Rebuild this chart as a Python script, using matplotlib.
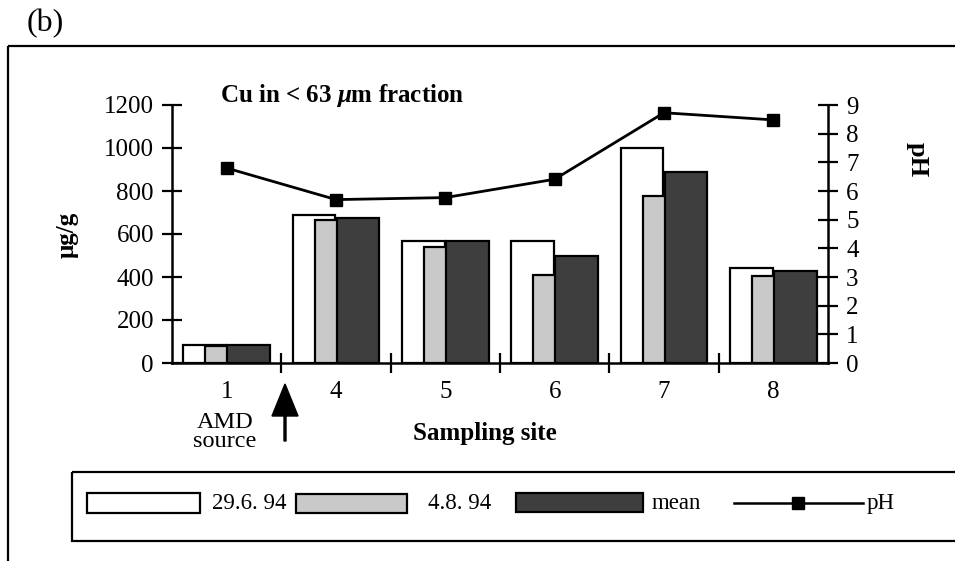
# Cu in < 63 um fraction, bars per sampling site with pH on a second axis
import matplotlib
matplotlib.use("Agg")
import matplotlib.pyplot as plt
from matplotlib.patches import Rectangle, FancyArrow
from matplotlib.lines import Line2D
import numpy as np

plt.rcParams["font.family"] = ["Liberation Serif", "DejaVu Serif"]
plt.rcParams["mathtext.fontset"] = "custom"
plt.rcParams["mathtext.it"] = "Liberation Serif:italic:bold"

sites = ["1", "4", "5", "6", "7", "8"]
cu_jun = [85, 690, 567, 567, 1000, 440]   # 29.6.94
cu_aug = [80, 665, 540, 410, 775, 405]    # 4.8.94
cu_mean = [85, 675, 567, 500, 890, 430]
ph = [6.8, 5.7, 5.77, 6.41, 8.73, 8.48]

W, H = 955, 561
fig = plt.figure(figsize=(W / 100, H / 100), dpi=100)

# main axes: left spine at x=172, right at 828, y0 at 363, top at 105 (pixels)
ax = fig.add_axes([172 / W, (H - 363) / H, (828 - 172) / W, (363 - 105) / H])
ax.set_facecolor("none")
x = np.arange(len(sites))
bw = 0.39
ax.bar(x - 0.2, cu_jun, bw, color="white", edgecolor="black", lw=1.6, zorder=2)
ax.bar(x, cu_aug, bw, color="#c9c9c9", edgecolor="black", lw=1.6, zorder=3)
ax.bar(x + 0.2, cu_mean, bw, color="#3e3e3e", edgecolor="black", lw=1.6, zorder=4)

ax.set_xlim(-0.5, len(sites) - 0.5)
ax.set_ylim(0, 1200)
ax.set_yticks(range(0, 1201, 200))
ax.set_xticks(np.arange(0.5, len(sites) - 0.5, 1))
ax.set_xticklabels([])
ax.set_xticks(x, minor=True)
ax.set_xticklabels(sites, minor=True)
ax.tick_params(axis="x", which="minor", length=0, pad=13, labelsize=18)
ax.tick_params(axis="x", which="major", direction="inout", length=14, width=1.6)
ax.tick_params(axis="y", direction="inout", length=14, width=1.6, pad=6, labelsize=18)
ax.spines["top"].set_visible(False)
ax.spines["right"].set_visible(False)
for s in ["left", "bottom"]:
    ax.spines[s].set_linewidth(1.8)

ax2 = ax.twinx()
ax2.plot(x, ph, color="black", lw=2, marker="s", markersize=8, zorder=5)
ax2.set_ylim(0, 9)
ax2.set_yticks(range(0, 10))
ax2.tick_params(axis="y", direction="inout", length=14, width=1.6, pad=6, labelsize=18)
for s in ["top", "left", "bottom"]:
    ax2.spines[s].set_visible(False)
ax2.spines["right"].set_linewidth(1.8)

# overlay in pixel coordinates for frame, labels, legend
ov = fig.add_axes([0, 0, 1, 1], zorder=-1)
ov.set_xlim(0, W)
ov.set_ylim(H, 0)
ov.axis("off")

ov.add_patch(Rectangle((8, 46), 1000, 600, fill=False, lw=1.6, ec="black"))
ov.text(27, 24, "(b)", fontsize=23, va="center", ha="left")
ov.text(220, 95, r"Cu in < 63 $\mathit{\mu}$m fraction", fontsize=18, fontweight="bold",
        va="center", ha="left")
ov.text(67, 235, "μg/g", fontsize=18, fontweight="bold", rotation=90, va="center", ha="center")
ov.text(917, 160, "pH", fontsize=19, fontweight="bold", rotation=270, va="center", ha="center")
ov.text(485, 433, "Sampling site", fontsize=18, fontweight="bold", va="center", ha="center")
ov.text(225, 432, "AMD\nsource", fontsize=17.5, va="center", ha="center", linespacing=0.9)
ov.add_patch(FancyArrow(285, 441, 0, -57, width=2, head_width=26, head_length=32,
                        length_includes_head=True, color="black"))

# legend box
ov.add_patch(Rectangle((72, 472), 1000, 69, fill=False, lw=1.6, ec="black"))
ov.add_patch(Rectangle((87, 493), 113, 20, fc="white", ec="black", lw=1.6))
ov.add_patch(Rectangle((296, 494), 111, 19, fc="#c9c9c9", ec="black", lw=1.6))
ov.add_patch(Rectangle((516, 493), 127, 19, fc="#3e3e3e", ec="black", lw=1.6))
ov.add_line(Line2D([734, 863], [503, 503], color="black", lw=1.8))
ov.plot([798], [503], marker="s", color="black", markersize=8)
for tx, lab in zip([212, 428, 652, 867], ["29.6. 94", "4.8. 94", "mean", "pH"]):
    ov.text(tx, 503, lab, fontsize=16.5, va="center", ha="left")

fig.savefig("out.png", dpi=100)
